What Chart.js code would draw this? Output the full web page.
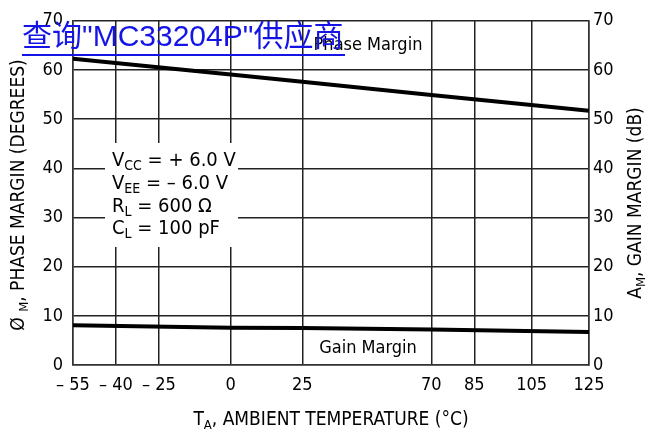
<!DOCTYPE html>
<html>
<head>
<meta charset="utf-8">
<script src="https://cdn.jsdelivr.net/npm/chart.js@4"></script>
<style>
  html, body { margin: 0; padding: 0; background: #fff; }
</style>
</head>
<body>
<canvas id="marginChart" width="645" height="437"></canvas>
<script>
// temperature points (deg C)
const temps = [-55, 0, 25, 70, 125];
const phaseMargin = [62.3, 59.1, 57.6, 54.9, 51.7];
const gainMargin = [8.1, 7.6, 7.5, 7.2, 6.7];

// axis ticks
const xTickValues = [-55, -40, -25, 0, 25, 70, 85, 105, 125];
const xTickLabels = ['\u2013 55', '\u2013 40', '\u2013 25', '0', '25', '70', '85', '105', '125'];

const FONT = '"Liberation Sans Narrow", "DejaVu Sans Condensed", "Arial Narrow", sans-serif';

// draw a string made of plain and subscript parts
function drawRich(ctx, parts, x, y, size, align) {
    const subSize = Math.round(size * 0.7);
    let total = 0;
    parts.forEach(function (p) {
        ctx.font = (p.sub ? subSize : size) + 'px ' + FONT;
        p.w = ctx.measureText(p.t).width;
        total += p.w;
    });
    let cx = x;
    if (align === 'center') cx = x - total / 2;
    ctx.textAlign = 'left';
    ctx.textBaseline = 'alphabetic';
    parts.forEach(function (p) {
        ctx.font = (p.sub ? subSize : size) + 'px ' + FONT;
        ctx.fillText(p.t, cx, p.sub ? y + size * 0.22 : y);
        cx += p.w;
    });
}

const labelsPlugin = {
    id: 'labels',
    beforeDatasetsDraw: function (chart) {
        const ctx = chart.ctx;
        ctx.save();
        // conditions box hides the grid behind it
        ctx.fillStyle = '#fff';
        ctx.fillRect(105, 143, 133, 104);
        ctx.fillStyle = '#000';
        drawRich(ctx, [{ t: 'V' }, { t: 'CC', sub: true }, { t: ' = + 6.0 V' }], 112, 166, 20);
        drawRich(ctx, [{ t: 'V' }, { t: 'EE', sub: true }, { t: ' = \u2013 6.0 V' }], 112, 189, 20);
        drawRich(ctx, [{ t: 'R' }, { t: 'L', sub: true }, { t: ' = 600 \u03A9' }], 112, 212, 20);
        drawRich(ctx, [{ t: 'C' }, { t: 'L', sub: true }, { t: ' = 100 pF' }], 112, 234, 20);

        drawRich(ctx, [{ t: 'Phase Margin' }], 368, 50, 18, 'center');
        drawRich(ctx, [{ t: 'Gain Margin' }], 368, 353, 18, 'center');

        // axis titles
        drawRich(ctx, [{ t: 'T' }, { t: 'A', sub: true }, { t: ', AMBIENT TEMPERATURE (\u00B0C)' }], 331, 425, 19, 'center');

        ctx.save();
        ctx.translate(24, 195);
        ctx.rotate(-Math.PI / 2);
        drawRich(ctx, [{ t: '\u00D8 ' }, { t: 'M', sub: true }, { t: ', PHASE MARGIN (DEGREES)' }], 0, 0, 19, 'center');
        ctx.restore();

        ctx.save();
        ctx.translate(641, 203);
        ctx.rotate(-Math.PI / 2);
        drawRich(ctx, [{ t: 'A' }, { t: 'M', sub: true }, { t: ', GAIN MARGIN (dB)' }], 0, 0, 19, 'center');
        ctx.restore();
        ctx.restore();
    },
    afterDraw: function (chart) {
        // blue link text on top
        const ctx = chart.ctx;
        ctx.save();
        ctx.fillStyle = '#1414e6';
        ctx.font = '30px "Liberation Sans", "Noto Sans CJK SC", sans-serif';
        ctx.textAlign = 'left';
        ctx.textBaseline = 'alphabetic';
        ctx.fillText('\u67E5\u8BE2"MC33204P"\u4F9B\u5E94\u5546', 22, 46);
        ctx.fillRect(22, 54, 323, 2);
        ctx.restore();
    }
};

const ctx = document.getElementById('marginChart').getContext('2d');
const chart = new Chart(ctx, {
    type: 'line',
    data: {
        datasets: [{
            label: 'Phase Margin',
            data: temps.map(function (t, i) { return { x: t, y: phaseMargin[i] }; }),
            borderColor: '#000',
            borderWidth: 4,
            pointRadius: 0,
            tension: 0,
            yAxisID: 'y'
        }, {
            label: 'Gain Margin',
            data: temps.map(function (t, i) { return { x: t, y: gainMargin[i] }; }),
            borderColor: '#000',
            borderWidth: 4,
            pointRadius: 0,
            tension: 0,
            yAxisID: 'y2'
        }]
    },
    options: {
        responsive: false,
        animation: false,
        layout: { padding: { top: 15, left: 0, right: 0, bottom: 0 } },
        plugins: {
            legend: { display: false },
            tooltip: { enabled: false }
        },
        scales: {
            x: {
                type: 'linear',
                min: -55,
                max: 125,
                afterBuildTicks: function (scale) {
                    scale.ticks = xTickValues.map(function (v) { return { value: v }; });
                },
                afterFit: function (scale) { scale.height = 72; },
                ticks: {
                    autoSkip: false,
                    maxRotation: 0,
                    padding: 10,
                    color: '#000',
                    font: { family: FONT, size: 18 },
                    callback: function (value) { return xTickLabels[xTickValues.indexOf(value)]; }
                },
                grid: { color: '#222', lineWidth: 1.5, drawTicks: false },
                border: { color: '#333', width: 1.5 }
            },
            y: {
                position: 'left',
                min: 0,
                max: 70,
                afterFit: function (scale) { scale.width = 73; },
                ticks: {
                    stepSize: 10,
                    padding: 10,
                    color: '#000',
                    font: { family: FONT, size: 18 }
                },
                grid: { color: '#222', lineWidth: 1.5, drawTicks: false },
                border: { color: '#333', width: 1.5 }
            },
            y2: {
                position: 'right',
                min: 0,
                max: 70,
                afterFit: function (scale) { scale.width = 56; },
                ticks: {
                    stepSize: 10,
                    padding: 4,
                    color: '#000',
                    font: { family: FONT, size: 18 }
                },
                grid: { display: false, drawTicks: false },
                border: { color: '#333', width: 1.5 }
            }
        }
    },
    plugins: [labelsPlugin]
});
</script>
</body>
</html>
